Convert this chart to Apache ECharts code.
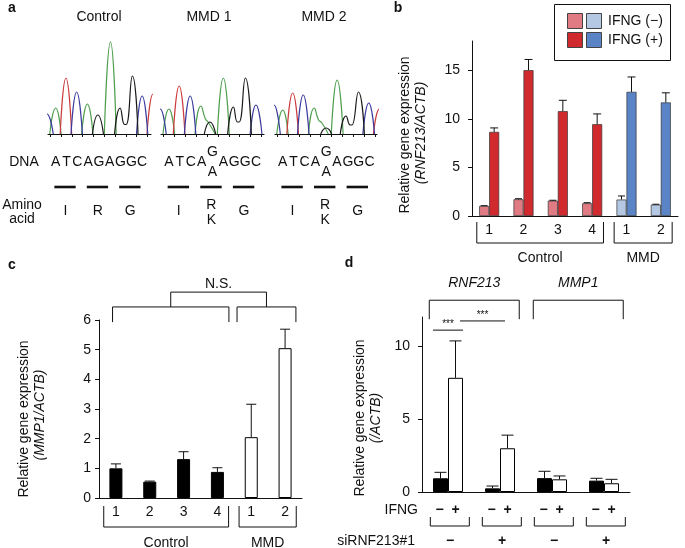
<!DOCTYPE html>
<html>
<head>
<meta charset="utf-8">
<script src="https://cdn.jsdelivr.net/npm/echarts@6/dist/echarts.min.js"></script>
<style>
html, body { margin: 0; padding: 0; background: #fff; }
#chart-container { width: 685px; height: 548px; }
</style>
</head>
<body>
<div id="chart-container"></div>
<script>
var dom = document.getElementById('chart-container');
var myChart = echarts.init(dom, null, { renderer: 'canvas' });

var FONT = '"Liberation Sans", Arial, Helvetica, sans-serif';

// ---------- a: sequencing traces, outline points ----------
// [base position, signal]
var ctrlPeaks = {
    A: [[[-0.55, 0], [0, 26], [0.5, 0]], [[2.4, 0], [2.93, 30], [3.45, 0]], [[4.5, 0], [5.07, 92], [5.6, 0]]],
    T: [[[0.42, 0], [0.95, 56], [1.48, 0]], [[8.45, 0], [9.0, 40], [9.55, 0]]],
    C: [[[-1.3, 0], [-0.8, 20], [-0.22, 0]], [[1.42, 0], [1.94, 42], [2.47, 0]], [[7.48, 0], [8.0, 38], [8.52, 0]]],
    G: [[[3.4, 0], [3.9, 19], [4.42, 0]], [[5.45, 0], [5.96, 26], [6.38, 9.5], [6.52, 9.5], [7.1, 58], [7.62, 0]]]
};
var mmd1Peaks = {
    A: [[[-0.55, 0], [0, 25], [0.52, 0]], [[2.4, 0], [2.94, 28], [3.35, 15], [3.6, 12], [4.25, 0]], [[4.45, 0], [5.0, 56], [5.55, 0]]],
    T: [[[0.4, 0], [0.94, 48], [1.47, 0]]],
    C: [[[-1.3, 0], [-0.8, 25], [-0.25, 0]], [[1.42, 0], [1.95, 38], [2.47, 0]], [[7.47, 0], [8.0, 29], [8.55, 0]]],
    G: [[[3.25, 0], [3.76, 12], [4.3, 0]], [[5.4, 0], [5.93, 27], [6.3, 12], [6.45, 12], [7.03, 56], [7.58, 0]]]
};
var mmd2Peaks = {
    A: [[[-0.55, 0], [0, 24], [0.5, 0]], [[2.37, 0], [2.9, 26], [3.3, 14], [3.58, 11.5], [4.2, 0]], [[4.47, 0], [5.01, 54], [5.56, 0]]],
    T: [[[0.38, 0], [0.92, 41], [1.45, 0]], [[8.35, 0], [8.9, 25], [9.45, 0]]],
    C: [[[-1.3, 0], [-0.8, 29], [-0.22, 0]], [[1.36, 0], [1.89, 39], [2.42, 0]], [[7.38, 0], [7.92, 31], [8.45, 0]]],
    G: [[[3.5, 0], [4.0, 6], [4.5, 0]], [[5.3, 0], [5.83, 18], [6.22, 9], [6.36, 9], [6.97, 42], [7.52, 0]]]
};
var baseTicks = [-0.5, 0.5, 1.5, 2.5, 3.5, 4.5, 5.5, 6.5, 7.5, 8.5];
var seqControl = ['A', 'T', 'C', 'A', 'G', 'A', 'G', 'G', 'C'];
var seqMMD = ['A', 'T', 'C', 'A', 'G/A', 'A', 'G', 'G', 'C'];
var aminoControl = ['I', 'R', 'G'];
var aminoMMD = ['I', 'R/K', 'G'];

// ---------- b: RNF213/ACTB ----------
var catsB = ['Control 1', 'Control 2', 'Control 3', 'Control 4', 'MMD 1', 'MMD 2'];
var rnfNoIfng = [1.03, 1.72, 1.58, 1.31, 1.69, 1.17];
var rnfNoIfngSd = [0.03, 0.06, 0.04, 0.06, 0.37, 0.04];
var rnfIfng = [8.65, 15.0, 10.78, 9.44, 12.77, 11.68];
var rnfIfngSd = [0.41, 1.1, 1.12, 1.06, 1.53, 0.99];
var ticksB = [0, 5, 10, 15];

// ---------- c: MMP1/ACTB ----------
var mmp1 = [1.0, 0.55, 1.31, 0.88, 2.05, 5.05];
var mmp1Sd = [0.15, 0.02, 0.25, 0.14, 1.11, 0.64];
var ticksC = [0, 1, 2, 3, 4, 5, 6];

// ---------- d: knockdown ----------
var catsD = ['RNF213 si-', 'RNF213 si+', 'MMP1 si-', 'MMP1 si+'];
var siSign = ['\u2212', '+', '\u2212', '+'];
var dNoIfng = [0.94, 0.25, 0.95, 0.78];
var dNoIfngSd = [0.41, 0.16, 0.47, 0.16];
var dIfng = [7.83, 3.0, 0.87, 0.6];
var dIfngSd = [2.53, 0.9, 0.23, 0.27];
var ticksD = [0, 5, 10];

var groups = [{ name: 'Control', from: 0, to: 3 }, { name: 'MMD', from: 4, to: 5 }];

var baseColor = { A: '#4f9f4f', T: '#c93b3d', C: '#3b3b9e', G: '#1a1a1a' };
var lightRed = '#e07b84', darkRed = '#d12a2e', lightBlue = '#b5c8e3', darkBlue = '#5b84c7';

function txt(x, y, s, extra) {
    var st = {
        text: s, fill: '#111', fontSize: 14, fontFamily: FONT,
        align: 'center', verticalAlign: 'middle', textAlign: 'center', textVerticalAlign: 'middle'
    };
    for (var k in extra) st[k] = extra[k];
    return { type: 'text', x: x, y: y, style: st, silent: true };
}
function vtxt(x, y, s, italic) {
    var el = txt(x, y, s, italic ? { fontStyle: 'italic' } : {});
    el.rotation = Math.PI / 2;
    return el;
}
function bracket(xl, xr, yEnd, yBar, w) {
    return {
        type: 'polyline', silent: true,
        shape: { points: [[xl, yEnd], [xl, yBar], [xr, yBar], [xr, yEnd]] },
        style: { stroke: '#111', fill: 'none', lineWidth: w || 1 }
    };
}

function traceSeries(peaks, idx) {
    var out = [];
    Object.keys(peaks).forEach(function (b) {
        peaks[b].forEach(function (pts) {
            out.push({
                type: 'line', xAxisIndex: idx, yAxisIndex: idx, data: pts,
                smooth: 0.55, symbol: 'none', silent: true, clip: true,
                lineStyle: { color: baseColor[b], width: 1.2 }
            });
        });
    });
    return out;
}

function seqSeries(seq, amino, idx) {
    return {
        type: 'custom', xAxisIndex: idx, yAxisIndex: idx, silent: true,
        data: seq.map(function (s, i) { return [i, 0]; }),
        encode: { x: 0, y: 1 },
        renderItem: function (params, api) {
            var i = api.value(0);
            var p = api.coord([i, 0]);
            var s = seq[i];
            var kids = [];
            if (s.length > 1) {
                kids.push(txt(p[0], p[1] + 18, s.split('/')[0]));
                kids.push(txt(p[0], p[1] + 38, s.split('/')[1]));
            } else {
                kids.push(txt(p[0], p[1] + 28, s));
            }
            if (i % 3 === 1) {
                var aa = amino[(i - 1) / 3];
                var xl = api.coord([i - 1.12, 0])[0], xr = api.coord([i + 0.85, 0])[0];
                kids.push({ type: 'line', silent: true, shape: { x1: xl, y1: p[1] + 53, x2: xr, y2: p[1] + 53 }, style: { stroke: '#111', lineWidth: 2.6 } });
                var ax = api.coord([i - 0.1, 0])[0];
                if (aa.length > 1) {
                    kids.push(txt(ax, p[1] + 71, aa.split('/')[0]));
                    kids.push(txt(ax, p[1] + 86, aa.split('/')[1]));
                } else {
                    kids.push(txt(ax, p[1] + 77, aa));
                }
            }
            return { type: 'group', children: kids };
        }
    };
}

function errorSeries(idx, vals, sds, offset, capHalf) {
    return {
        type: 'custom', xAxisIndex: idx, yAxisIndex: idx, silent: true, z: 5,
        data: vals.map(function (v, i) { return [i, v, sds[i]]; }),
        encode: { x: 0, y: 1 },
        renderItem: function (params, api) {
            var base = api.coord([api.value(0), api.value(1)]);
            var top = api.coord([api.value(0), api.value(1) + api.value(2)]);
            var x = base[0] + offset;
            return {
                type: 'group', children: [
                    { type: 'line', shape: { x1: x, y1: base[1], x2: x, y2: top[1] }, style: { stroke: '#111', lineWidth: 1 } },
                    { type: 'line', shape: { x1: x - capHalf, y1: top[1], x2: x + capHalf, y2: top[1] }, style: { stroke: '#111', lineWidth: 1 } }
                ]
            };
        }
    };
}

function groupBrackets(api, kids, yA, yB, yLab) {
    var band = api.size([1, 0])[0];
    var y0 = api.coord([0, 0])[1];
    groups.forEach(function (g) {
        var xl = api.coord([g.from, 0])[0] - band * 0.36;
        var xr = api.coord([g.to, 0])[0] + band * 0.33;
        kids.push(bracket(xl, xr, y0 + yA, y0 + yB));
        kids.push(txt((xl + xr) / 2, y0 + yLab, g.name));
    });
}

var annotB = {
    type: 'custom', xAxisIndex: 3, yAxisIndex: 3, silent: true, data: [[0, 0]],
    renderItem: function (params, api) {
        var kids = [];
        groupBrackets(api, kids, 6, 27, 42);
        return { type: 'group', children: kids };
    }
};

var annotC = {
    type: 'custom', xAxisIndex: 4, yAxisIndex: 4, silent: true, data: [[0, 0]],
    renderItem: function (params, api) {
        var kids = [];
        groupBrackets(api, kids, 8, 29, 45);
        var band = api.size([1, 0])[0];
        var cx = function (i) { return api.coord([i, 0])[0]; };
        var yBar = api.coord([0, 6.44])[1], yEnd = api.coord([0, 5.93])[1];
        var l1 = cx(0) - 0.1 * band, r1 = cx(3) + 0.34 * band;
        var l2 = cx(4) - 0.42 * band, r2 = cx(5) + 0.32 * band;
        kids.push(bracket(l1, r1, yEnd, yBar));
        kids.push(bracket(l2, r2, yEnd, yBar));
        var m1 = (l1 + r1) / 2, m2 = (l2 + r2) / 2;
        kids.push(bracket(m1, m2, yBar, api.coord([0, 6.94])[1]));
        kids.push(txt((m1 + m2) / 2, api.coord([0, 7.2])[1], 'N.S.'));
        return { type: 'group', children: kids };
    }
};

var annotD = {
    type: 'custom', xAxisIndex: 5, yAxisIndex: 5, silent: true, data: [[0, 0]],
    renderItem: function (params, api) {
        var kids = [];
        var band = api.size([1, 0])[0];
        var y0 = api.coord([0, 0])[1];
        var cx = function (i) { return api.coord([i, 0])[0]; };
        var left = cx(0) - band / 2;
        kids.push(txt(left - 4, y0 + 18, 'IFNG', { align: 'right', textAlign: 'right' }));
        kids.push(txt(left - 7, y0 + 49, 'siRNF213#1', { align: 'right', textAlign: 'right' }));
        catsD.forEach(function (c, i) {
            var x = cx(i);
            kids.push(txt(x - 8.5, y0 + 18, '\u2212', { fontWeight: 'bold' }));
            kids.push(txt(x + 7.5, y0 + 18, '+', { fontWeight: 'bold' }));
            kids.push(bracket(x - 0.34 * band, x + 0.41 * band, y0 + 25, y0 + 34));
            kids.push(txt(x + 2, y0 + 49, siSign[i], { fontWeight: 'bold' }));
        });
        // gene brackets
        var yBar = api.coord([0, 13.15])[1], yEnd = api.coord([0, 11.85])[1], yLab = api.coord([0, 14.3])[1];
        [['RNF213', 0, 1], ['MMP1', 2, 3]].forEach(function (g) {
            var xl = cx(g[1]) - 0.36 * band, xr = cx(g[2]) + 0.37 * band;
            kids.push(bracket(xl, xr, yEnd, yBar));
            kids.push(txt((xl + xr) / 2, yLab, g[0], { fontStyle: 'italic' }));
        });
        // significance
        var y1 = api.coord([0, 11.1])[1], y2 = api.coord([0, 11.73])[1];
        var a1 = cx(0) - 15, b1 = cx(0) + 15, a2 = cx(0) + 12, b2 = cx(1) + 5;
        kids.push({ type: 'line', shape: { x1: a1, y1: y1, x2: b1, y2: y1 }, style: { stroke: '#111', lineWidth: 1 } });
        kids.push({ type: 'line', shape: { x1: a2, y1: y2, x2: b2, y2: y2 }, style: { stroke: '#111', lineWidth: 1 } });
        kids.push(txt((a1 + b1) / 2, y1 - 1, '***', { fontSize: 10, verticalAlign: 'bottom', textVerticalAlign: 'bottom' }));
        kids.push(txt((a2 + b2) / 2, y2 - 1, '***', { fontSize: 10, verticalAlign: 'bottom', textVerticalAlign: 'bottom' }));
        return { type: 'group', children: kids };
    }
};

function chromX(grid, min, max) {
    return {
        gridIndex: grid, type: 'value', min: min, max: max,
        axisLine: { show: true, onZero: false, lineStyle: { color: '#111', width: 1.2 } },
        axisTick: { show: true, customValues: baseTicks, length: 3, lineStyle: { color: '#111' } },
        axisLabel: { show: false }, splitLine: { show: false }
    };
}
function chromY(grid) {
    return { gridIndex: grid, type: 'value', min: 0, max: 94, show: false, splitLine: { show: false } };
}
function catX(grid, cats, showLabel) {
    return {
        gridIndex: grid, type: 'category', data: cats,
        axisLine: { lineStyle: { color: '#111', width: 1 } },
        axisTick: { show: false },
        axisLabel: {
            show: showLabel, fontSize: 14, color: '#111', fontFamily: FONT, margin: 7,
            formatter: function (v) { return v.split(' ')[1]; }
        }
    };
}
function valY(grid, max, interval, ticks, margin) {
    return {
        gridIndex: grid, type: 'value', min: 0, max: max, interval: interval,
        axisLine: { show: true, lineStyle: { color: '#111', width: 1 } },
        axisTick: { show: true, length: 4, customValues: ticks, lineStyle: { color: '#111' } },
        axisLabel: { customValues: ticks, fontSize: 14, color: '#111', fontFamily: FONT, margin: margin },
        splitLine: { show: false }
    };
}

var option = {
    animation: false,
    backgroundColor: '#fff',
    grid: [
        { left: 48, top: 40, width: 103, height: 94, outerBoundsMode: 'none' },
        { left: 161, top: 40, width: 103, height: 94, outerBoundsMode: 'none' },
        { left: 275, top: 40, width: 102, height: 94, outerBoundsMode: 'none' },
        { left: 472, top: 41, width: 206, height: 175, outerBoundsMode: 'none' },
        { left: 99, top: 320, width: 203, height: 178, outerBoundsMode: 'none' },
        { left: 422, top: 317, width: 208, height: 175, outerBoundsMode: 'none' }
    ],
    xAxis: [
        chromX(0, -0.71, 8.82),
        chromX(1, -0.73, 8.74),
        chromX(2, -0.71, 8.68),
        catX(3, catsB, true),
        catX(4, catsB, true),
        catX(5, catsD, false)
    ],
    yAxis: [
        chromY(0), chromY(1), chromY(2),
        valY(3, 18, 5, ticksB, 12),
        valY(4, 6, 1, ticksC, 8),
        valY(5, 12, 5, ticksD, 12)
    ],
    graphic: [
        txt(12, 8, 'a', { fontWeight: 'bold' }),
        txt(398, 8, 'b', { fontWeight: 'bold' }),
        txt(12, 265, 'c', { fontWeight: 'bold' }),
        txt(349, 263, 'd', { fontWeight: 'bold' }),
        txt(99, 17, 'Control'),
        txt(209, 17, 'MMD 1'),
        txt(324, 17, 'MMD 2'),
        txt(24, 162, 'DNA'),
        txt(22, 205, 'Amino'),
        txt(22, 219, 'acid'),
        // legend of b
        { type: 'rect', shape: { x: 554.5, y: 4.5, width: 116, height: 56 }, style: { fill: '#fff', stroke: '#111', lineWidth: 1 } },
        { type: 'rect', shape: { x: 567.5, y: 13.5, width: 15, height: 15 }, style: { fill: lightRed, stroke: '#444', lineWidth: 1 } },
        { type: 'rect', shape: { x: 586.5, y: 13.5, width: 15, height: 15 }, style: { fill: lightBlue, stroke: '#444', lineWidth: 1 } },
        { type: 'rect', shape: { x: 567.5, y: 32.5, width: 15, height: 15 }, style: { fill: darkRed, stroke: '#444', lineWidth: 1 } },
        { type: 'rect', shape: { x: 586.5, y: 32.5, width: 15, height: 15 }, style: { fill: darkBlue, stroke: '#444', lineWidth: 1 } },
        txt(608, 21, 'IFNG (\u2212)', { align: 'left', textAlign: 'left' }),
        txt(608, 40, 'IFNG (+)', { align: 'left', textAlign: 'left' }),
        // y-axis titles
        vtxt(405, 135, 'Relative gene expression'),
        vtxt(421, 133, '(RNF213/ACTB)', true),
        vtxt(24, 419, 'Relative gene expression'),
        vtxt(40, 415, '(MMP1/ACTB)', true),
        vtxt(360, 418, 'Relative gene expression'),
        vtxt(376, 418, '(/ACTB)', true)
    ],
    series: [].concat(
        traceSeries(ctrlPeaks, 0),
        traceSeries(mmd1Peaks, 1),
        traceSeries(mmd2Peaks, 2),
        [
            seqSeries(seqControl, aminoControl, 0),
            seqSeries(seqMMD, aminoMMD, 1),
            seqSeries(seqMMD, aminoMMD, 2),
            {
                name: 'IFNG (-)', type: 'bar', xAxisIndex: 3, yAxisIndex: 3, data: rnfNoIfng,
                barWidth: 10, barGap: '0%',
                itemStyle: { color: function (p) { return p.dataIndex < 4 ? lightRed : lightBlue; }, borderColor: '#333', borderWidth: 0.7 }
            },
            {
                name: 'IFNG (+)', type: 'bar', xAxisIndex: 3, yAxisIndex: 3, data: rnfIfng,
                barWidth: 10, barGap: '0%',
                itemStyle: { color: function (p) { return p.dataIndex < 4 ? darkRed : darkBlue; }, borderColor: '#333', borderWidth: 0.7 }
            },
            errorSeries(3, rnfNoIfng, rnfNoIfngSd, -5, 3.5),
            errorSeries(3, rnfIfng, rnfIfngSd, 5, 4),
            annotB,
            {
                name: 'MMP1', type: 'bar', xAxisIndex: 4, yAxisIndex: 4, data: mmp1, barWidth: 13,
                itemStyle: { color: function (p) { return p.dataIndex < 4 ? '#000' : '#fff'; }, borderColor: '#000', borderWidth: 1 }
            },
            errorSeries(4, mmp1, mmp1Sd, 0, 5),
            annotC,
            {
                name: 'IFNG -', type: 'bar', xAxisIndex: 5, yAxisIndex: 5, data: dNoIfng,
                barWidth: 15, barGap: '0%', itemStyle: { color: '#000', borderColor: '#000', borderWidth: 1 }
            },
            {
                name: 'IFNG +', type: 'bar', xAxisIndex: 5, yAxisIndex: 5, data: dIfng,
                barWidth: 15, barGap: '0%', itemStyle: { color: '#fff', borderColor: '#000', borderWidth: 1 }
            },
            errorSeries(5, dNoIfng, dNoIfngSd, -7.5, 6),
            errorSeries(5, dIfng, dIfngSd, 7.5, 6),
            annotD
        ]
    )
};

if (option && typeof option === 'object') {
    myChart.setOption(option);
}

window.addEventListener('resize', myChart.resize);
</script>
</body>
</html>
